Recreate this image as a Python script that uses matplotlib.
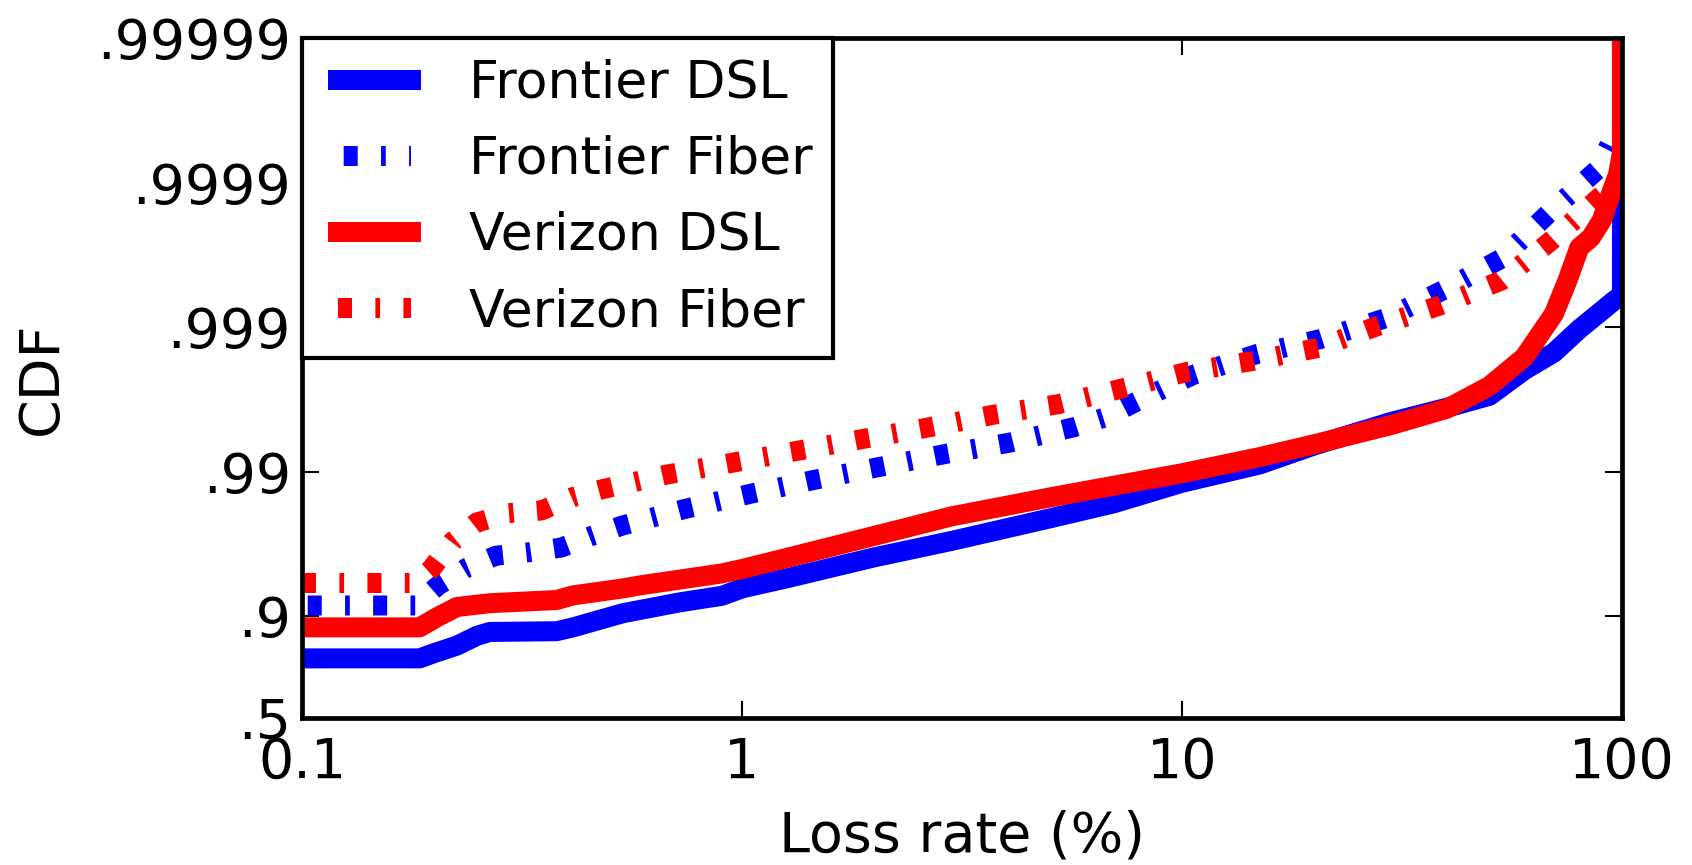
import numpy as np
import matplotlib
matplotlib.use("Agg")
import matplotlib.pyplot as plt
from matplotlib.ticker import FixedLocator, FixedFormatter, NullLocator

# Loss rate (%) and the CDF of per-line loss for each access technology
frontier_dsl_loss = [0.1, 0.185, 0.2, 0.225, 0.25, 0.267, 0.379, 0.413, 0.536, 0.72,
                     0.9, 1.0, 1.28, 2, 3, 5, 7, 10, 15, 20, 30, 40, 50, 60, 70, 80,
                     90, 95, 100, 100]
frontier_dsl_cdf = [0.805, 0.805, 0.821, 0.841, 0.864, 0.872, 0.8735, 0.881, 0.905, 0.920,
                    0.928, 0.936, 0.946, 0.961, 0.970, 0.979, 0.9835, 0.9881, 0.9911,
                    0.99344, 0.99550, 0.99640, 0.99702, 0.99802, 0.99850, 0.99897,
                    0.999231, 0.999329, 0.999404, 1.0]

frontier_fiber_loss = [0.1, 0.181, 0.204, 0.237, 0.276, 0.327, 0.388, 0.456, 0.535, 0.743,
                       1.048, 1.462, 2.06, 2.90, 4.06, 5.70, 6.76, 7.83, 9.17, 10.71,
                       14.82, 20.8, 29.2, 39.6, 53.4, 68.1, 87.8, 95.0]
frontier_fiber_cdf = [0.916, 0.916, 0.939, 0.954, 0.962, 0.964, 0.9666, 0.9723, 0.9765,
                      0.98197, 0.98584, 0.98865, 0.99077, 0.99248, 0.99372, 0.99510,
                      0.99584, 0.99670, 0.99738, 0.99789, 0.99847, 0.99880, 0.999139,
                      0.999453, 0.999667, 0.999837, 0.9999183, 0.9999495]

verizon_dsl_loss = [0.1, 0.185, 0.203, 0.225, 0.267, 0.379, 0.413, 0.536, 0.586, 0.9,
                    1.0, 1.28, 2, 3, 5, 7, 10, 15, 20, 30, 40, 50, 60, 70, 75, 80, 85,
                    90, 95, 98, 100, 100]
verizon_dsl_cdf = [0.881, 0.881, 0.899, 0.914, 0.919, 0.923, 0.9285, 0.936, 0.939, 0.9496,
                   0.953, 0.961, 0.9723, 0.9797, 0.98496, 0.98753, 0.98977, 0.99209,
                   0.99356, 0.99527, 0.99634, 0.99745, 0.99839, 0.999189, 0.999515,
                   0.999719, 0.999760, 0.999818, 0.999887, 0.9999125, 0.999938, 1.0]

verizon_fiber_loss = [0.1, 0.181, 0.197, 0.219, 0.2496, 0.2949, 0.350, 0.410, 0.483,
                      0.6785, 0.955, 1.341, 1.885, 2.646, 3.724, 5.242, 7.357, 10.26,
                      14.49, 20.39, 27.88, 38.9, 53.4, 69.6, 88.3, 94]
verizon_fiber_cdf = [0.9413, 0.9413, 0.9533, 0.9694, 0.9776, 0.9807, 0.9815, 0.98496,
                     0.98685, 0.98959, 0.99137, 0.99286, 0.99408, 0.99506, 0.99597,
                     0.99660, 0.997361, 0.997963, 0.998290, 0.998610, 0.999021,
                     0.999299, 0.999527, 0.999753, 0.9998715, 0.99989]

x_ticks = [0.1, 1, 10, 100]
x_tick_labels = ["0.1", "1", "10", "100"]
y_ticks = [0.5, 0.9, 0.99, 0.999, 0.9999, 0.99999]
y_tick_labels = [".5", ".9", ".99", ".999", ".9999", ".99999"]

plt.rcParams["lines.scale_dashes"] = False
plt.rcParams["font.family"] = ["DejaVu Sans"]


def nines_forward(p):
    p = np.asarray(p, dtype=float)
    return -np.log10(np.clip(1.0 - p, 1e-9, None))


def nines_inverse(y):
    return 1.0 - 10.0 ** (-np.asarray(y, dtype=float))


fig = plt.figure(figsize=(16.92, 8.65), dpi=100)
ax = fig.add_axes([0.1785, 0.1705, 0.7801, 0.7855])

lw = 14.4
dashdot = (10.1, 16.8, 3.4, 16.8)

ax.plot(frontier_dsl_loss, frontier_dsl_cdf, color="blue", lw=lw,
        label="Frontier DSL")
ax.plot(frontier_fiber_loss, frontier_fiber_cdf, color="blue", lw=lw,
        linestyle=(43, dashdot), label="Frontier Fiber")
ax.plot(verizon_dsl_loss, verizon_dsl_cdf, color="red", lw=lw,
        label="Verizon DSL")
ax.plot(verizon_fiber_loss, verizon_fiber_cdf, color="red", lw=lw,
        linestyle=(0, dashdot), label="Verizon Fiber")

ax.set_xscale("log")
ax.set_yscale("function", functions=(nines_forward, nines_inverse))
ax.set_xlim(0.1, 100)
ax.set_ylim(0.5, 0.99999)

ax.xaxis.set_major_locator(FixedLocator(x_ticks))
ax.xaxis.set_major_formatter(FixedFormatter(x_tick_labels))
ax.xaxis.set_minor_locator(NullLocator())
ax.yaxis.set_major_locator(FixedLocator(y_ticks))
ax.yaxis.set_major_formatter(FixedFormatter(y_tick_labels))
ax.yaxis.set_minor_locator(NullLocator())

ax.tick_params(axis="both", which="major", direction="in", length=12, width=1.5,
               top=True, right=True, labelsize=40)
ax.tick_params(axis="y", pad=8)
ax.tick_params(axis="x", pad=13)
for s in ax.spines.values():
    s.set_linewidth(3.4)

ax.set_xlabel("Loss rate (%)", fontsize=40, labelpad=14)
ax.set_ylabel("CDF", fontsize=40)
ax.yaxis.set_label_coords(-0.177, 0.5)

leg = ax.legend(loc="upper left", borderaxespad=0, fontsize=37.5, frameon=True,
                fancybox=False, edgecolor="black", framealpha=1, borderpad=0.4,
                labelspacing=0.5, handlelength=2.0, handletextpad=0.8, numpoints=2)
leg.get_frame().set_linewidth(3)

fig.savefig("out.png", dpi=100, facecolor="white")
